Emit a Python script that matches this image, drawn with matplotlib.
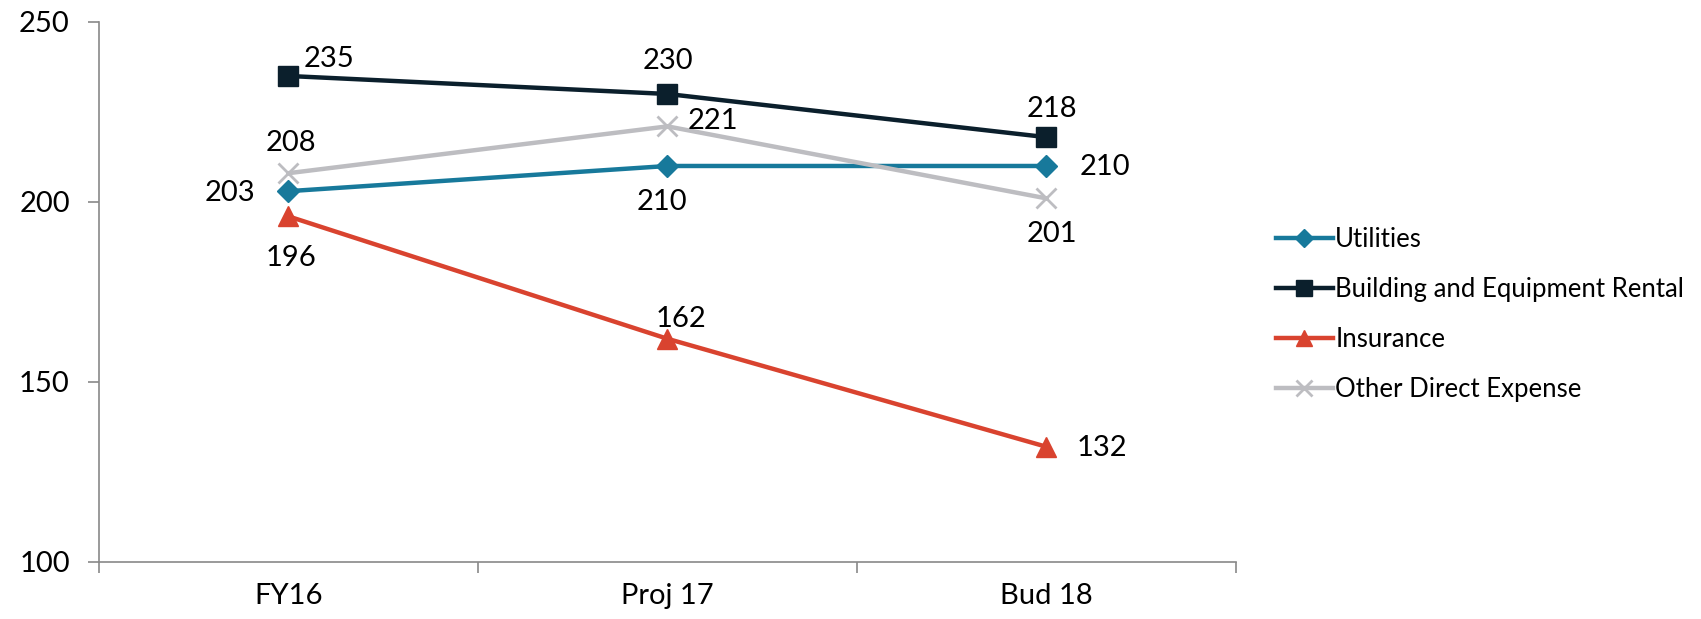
import matplotlib
matplotlib.use("Agg")
import matplotlib.pyplot as plt

plt.rcParams['font.family'] = ['Lato', 'DejaVu Sans']

categories = ["FY16", "Proj 17", "Bud 18"]
utilities = [203, 210, 210]
building = [235, 230, 218]
insurance = [196, 162, 132]
other = [208, 221, 201]

series_names = ["Utilities", "Building and Equipment Rental", "Insurance", "Other Direct Expense"]
series_values = [utilities, building, insurance, other]
colors = ["#17799B", "#0B1F2C", "#D9432F", "#BDBDC1"]
markers = ["D", "s", "^", "x"]
msizes = [11, 14, 14, 14]

# label offsets in points (dx, dy) for each series / point
offsets = [
    [(-42, -1), (-4, -26), (42, -1)],
    [(29, 12), (0, 24), (4, 20)],
    [(2, -30), (10, 14), (40, -1)],
    [(2, 22), (33, 4), (4, -26)],
]

fig = plt.figure(figsize=(17.01, 6.19), dpi=100)
ax = fig.add_axes([0.0582, 0.0921, 0.6684, 0.8724])

x = [0.5, 1.5, 2.5]
for name, vals, c, m, ms, offs in zip(series_names, series_values, colors, markers, msizes, offsets):
    mew = 2 if m == "x" else 1
    ax.plot(x, vals, color=c, lw=3.2, marker=m, markersize=ms, markeredgewidth=mew,
            markerfacecolor=c, markeredgecolor=c, label=name, zorder=3)
    for xi, v, (dx, dy) in zip(x, vals, offs):
        ax.annotate(f"{v}", (xi, v), xytext=(dx, dy), textcoords="offset points",
                    ha="center", va="center", fontsize=21, color="black", zorder=4)

ax.set_xlim(0, 3)
ax.set_ylim(100, 250)
ax.set_yticks([100, 150, 200, 250])
ax.set_xticks([0, 1, 2, 3])
ax.set_xticklabels([])
ax.set_xticks(x, minor=True)
ax.set_xticklabels(categories, minor=True, fontsize=21)
ax.tick_params(axis="x", which="minor", length=0, pad=15)
ax.tick_params(axis="x", which="major", length=8, width=1.2, color="#898989", direction="out")
ax.tick_params(axis="y", length=8, width=1.2, color="#898989", direction="out", labelsize=21, pad=13)
for s in ["top", "right"]:
    ax.spines[s].set_visible(False)
for s in ["left", "bottom"]:
    ax.spines[s].set_color("#898989")
    ax.spines[s].set_linewidth(1.2)

leg = ax.legend(loc="center left", bbox_to_anchor=(1.015, 0.459), frameon=False,
                fontsize=18.5, handlelength=2.2, handletextpad=0.1, labelspacing=0.97)
for h in leg.legend_handles:
    h.set_markersize(h.get_markersize() * 0.85)

fig.savefig("out.png", dpi=100)
